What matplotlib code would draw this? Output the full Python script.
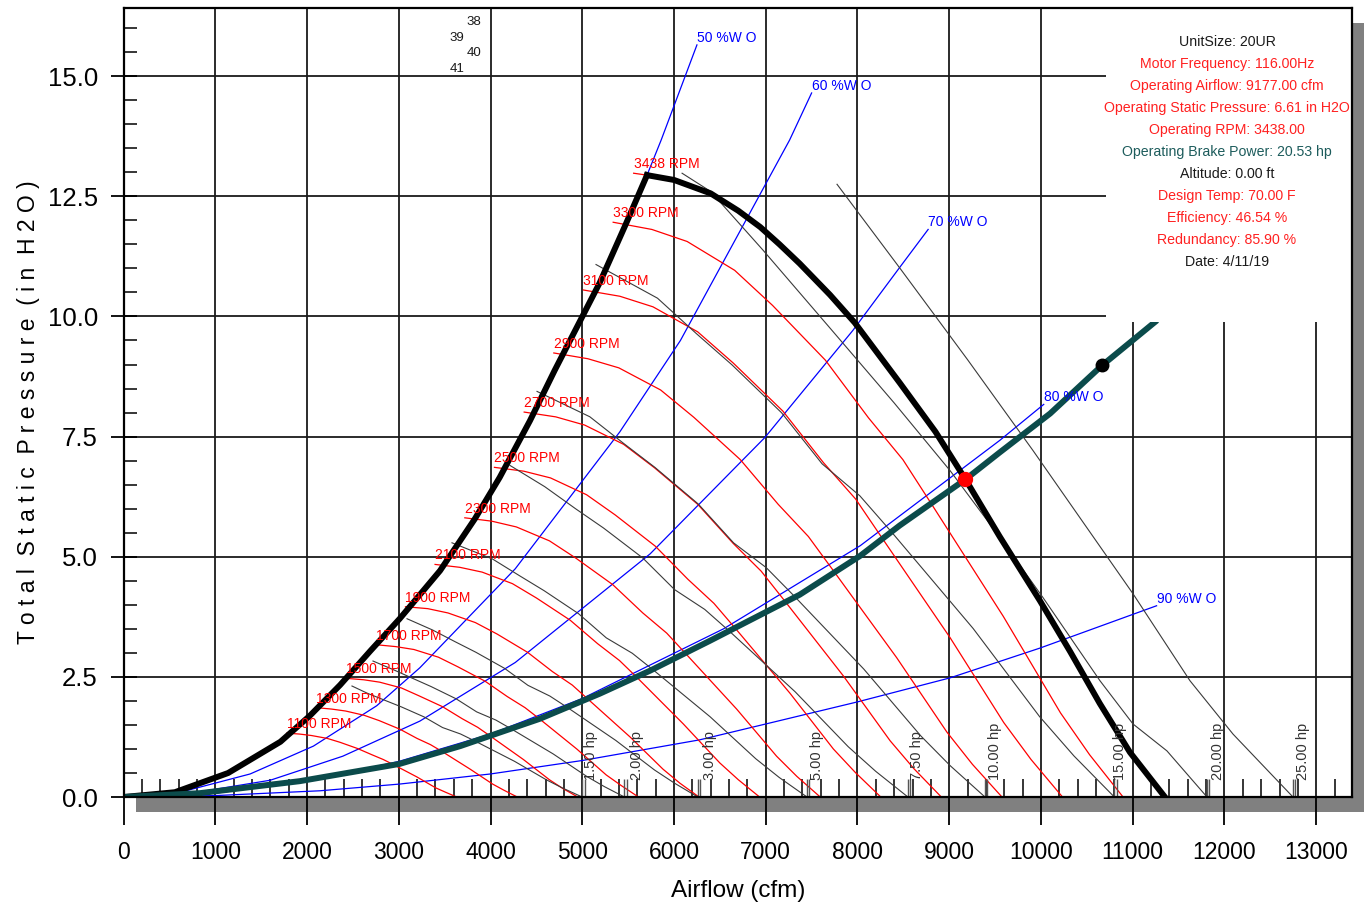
import matplotlib
matplotlib.use("Agg")
import matplotlib.pyplot as plt
from matplotlib.patches import Rectangle
from matplotlib.ticker import MultipleLocator, FormatStrFormatter

plt.rcParams["font.family"] = ["Liberation Sans", "DejaVu Sans"]

# ---------------------------------------------------------------------------
# Data (airflow in cfm, static pressure in in H2O)
# ---------------------------------------------------------------------------
surge_cfm = [0, 560, 1140, 1710, 2030, 2360, 2690, 3010, 3450, 3830, 4100, 4430,
             4700, 4980, 5190, 5470, 5706]
surge_sp = [0, 0.1, 0.5, 1.15, 1.69, 2.33, 3.04, 3.71, 4.71, 5.79, 6.65, 7.83,
            8.88, 9.92, 10.7, 11.9, 12.94]

top_cfm = [5706, 6000, 6400, 6700, 6940, 7150, 7370, 7700, 7970, 8460, 8850, 9177,
           9550, 9990, 10320, 10640, 10970, 11351]
top_sp = [12.94, 12.84, 12.56, 12.2, 11.86, 11.5, 11.1, 10.45, 9.87, 8.62, 7.6, 6.61,
          5.42, 4.08, 3.02, 1.95, 0.93, 0.0]

system_cfm = [0, 830, 1920, 3010, 3670, 4540, 5190, 5740, 6390, 7370, 8030, 8460,
              9177, 9550, 10100, 10665, 11240]
system_sp = [0, 0.08, 0.33, 0.69, 1.06, 1.63, 2.15, 2.63, 3.25, 4.21, 5.02, 5.65,
             6.61, 7.17, 7.98, 8.98, 9.88]

op_point = (9177, 6.61)
sys_point = (10665, 8.98)

rpm_values = [1100, 1300, 1500, 1700, 1900, 2100, 2300, 2500, 2700, 2900, 3100, 3300]
rpm_cfm = [
    [1779, 1920, 2048, 2220, 2358, 2550, 2707, 2832, 2936, 3196, 3404, 3510, 3632],
    [2102, 2269, 2420, 2624, 2787, 3014, 3199, 3346, 3470, 3778, 4023, 4148, 4292],
    [2426, 2618, 2792, 3028, 3216, 3477, 3691, 3861, 4004, 4359, 4642, 4786, 4952],
    [2749, 2967, 3165, 3432, 3644, 3941, 4183, 4376, 4538, 4940, 5261, 5424, 5613],
    [3073, 3316, 3537, 3835, 4073, 4405, 4675, 4891, 5072, 5521, 5880, 6063, 6273],
    [3396, 3665, 3909, 4239, 4502, 4868, 5168, 5406, 5606, 6102, 6499, 6701, 6933],
    [3720, 4014, 4282, 4643, 4931, 5332, 5660, 5921, 6139, 6683, 7118, 7339, 7594],
    [4043, 4363, 4654, 5047, 5359, 5796, 6152, 6435, 6673, 7264, 7737, 7977, 8254],
    [4367, 4712, 5026, 5450, 5788, 6259, 6644, 6950, 7207, 7846, 8356, 8615, 8914],
    [4690, 5061, 5399, 5854, 6217, 6723, 7136, 7465, 7741, 8427, 8975, 9253, 9575],
    [5013, 5410, 5771, 6258, 6646, 7187, 7628, 7980, 8275, 9008, 9594, 9892, 10235],
    [5337, 5759, 6143, 6661, 7074, 7650, 8120, 8495, 8809, 9589, 10213, 10530, 10895],
]
rpm_sp = [
    [1.33, 1.31, 1.28, 1.22, 1.14, 1.01, 0.88, 0.78, 0.68, 0.42, 0.19, 0.10, 0],
    [1.86, 1.83, 1.79, 1.70, 1.59, 1.41, 1.22, 1.09, 0.95, 0.58, 0.27, 0.14, 0],
    [2.47, 2.44, 2.39, 2.27, 2.11, 1.88, 1.63, 1.45, 1.26, 0.78, 0.36, 0.18, 0],
    [3.17, 3.13, 3.07, 2.91, 2.71, 2.41, 2.09, 1.86, 1.62, 1.00, 0.46, 0.24, 0],
    [3.96, 3.92, 3.83, 3.63, 3.39, 3.01, 2.61, 2.33, 2.02, 1.25, 0.58, 0.29, 0],
    [4.84, 4.78, 4.68, 4.44, 4.14, 3.68, 3.19, 2.84, 2.47, 1.52, 0.71, 0.36, 0],
    [5.81, 5.74, 5.62, 5.33, 4.97, 4.42, 3.83, 3.41, 2.96, 1.83, 0.85, 0.43, 0],
    [6.86, 6.78, 6.64, 6.29, 5.87, 5.22, 4.53, 4.03, 3.50, 2.16, 1.00, 0.51, 0],
    [8.01, 7.91, 7.74, 7.34, 6.85, 6.09, 5.28, 4.70, 4.08, 2.52, 1.17, 0.59, 0],
    [9.24, 9.12, 8.93, 8.47, 7.90, 7.02, 6.09, 5.42, 4.70, 2.90, 1.35, 0.68, 0],
    [10.55, 10.42, 10.20, 9.68, 9.03, 8.03, 6.96, 6.20, 5.37, 3.32, 1.55, 0.78, 0],
    [11.96, 11.81, 11.56, 10.96, 10.23, 9.09, 7.89, 7.02, 6.09, 3.76, 1.75, 0.88, 0],
]
max_rpm = 3438
max_rpm_lead_cfm = [5560, 5706]
max_rpm_lead_sp = [12.98, 12.94]

hp_names = ["1.50 hp", "2.00 hp", "3.00 hp", "5.00 hp", "7.50 hp", "10.00 hp",
            "15.00 hp", "20.00 hp", "25.00 hp"]
hp_label_cfm = [5095, 5597, 6392, 7558, 8648, 9499, 10861, 11929, 12856]
hp_cfm = [
    [2490, 2657, 2852, 3029, 3276, 3477, 3673, 3839, 4262, 4610, 4790, 5000],
    [2719, 2941, 3158, 3353, 3626, 3849, 4058, 4235, 4683, 5050, 5239, 5460],
    [3090, 3368, 3616, 3840, 4152, 4408, 4647, 4851, 5366, 5788, 6006, 6260],
    [3580, 4021, 4317, 4584, 4957, 5262, 5545, 5785, 6393, 6891, 7147, 7450],
    [4212, 4591, 4927, 5233, 5659, 6007, 6335, 6614, 7320, 7899, 8198, 8550],
    [4507, 5082, 5455, 5793, 6264, 6650, 7005, 7306, 8069, 8692, 9013, 9390],
    [5150, 5820, 6246, 6633, 7173, 7614, 8026, 8375, 9261, 9985, 10359, 10800],
    [6088, 6400, 6970, 7722, 8400, 9010, 9553, 10022, 10643, 11003, 11373, 11810],
    [7777, 8464, 9200, 9913, 11003, 11624, 12093, 12747],
]
hp_sp = [
    [2.31, 2.16, 2.01, 1.875, 1.667, 1.446, 1.312, 1.157, 0.743, 0.357, 0.183, 0],
    [2.83, 2.65, 2.464, 2.298, 2.043, 1.772, 1.602, 1.408, 0.897, 0.428, 0.219, 0],
    [3.71, 3.476, 3.23, 3.013, 2.679, 2.324, 2.101, 1.847, 1.177, 0.562, 0.288, 0],
    [5.29, 4.954, 4.604, 4.294, 3.819, 3.312, 2.992, 2.627, 1.671, 0.797, 0.407, 0],
    [6.90, 6.458, 5.999, 5.596, 4.975, 4.315, 3.904, 3.433, 2.191, 1.047, 0.536, 0],
    [8.44, 7.913, 7.352, 6.858, 6.098, 5.288, 4.774, 4.19, 2.662, 1.268, 0.648, 0],
    [11.08, 10.38, 9.639, 8.991, 7.995, 6.934, 6.267, 5.506, 3.506, 1.673, 0.856, 0],
    [12.98, 12.6, 11.38, 9.71, 8.2, 6.79, 5.4, 4.15, 2.42, 1.52, 0.96, 0],
    [12.75, 11.0, 9.1, 7.21, 4.23, 2.42, 1.31, 0],
]

wo_names = ["50 %W O", "60 %W O", "70 %W O", "80 %W O", "90 %W O"]
wo_cfm = [
    [0, 560, 1140, 1710, 2030, 2360, 2690, 3010, 3450, 3830, 4100, 4430, 4700,
     4980, 5190, 5470, 5706, 5860, 6250],
    [0, 620, 1380, 2070, 2760, 3230, 4270, 5410, 6070, 7260, 7500],
    [0, 800, 1600, 2390, 3230, 4270, 5740, 6990, 7950, 8460, 8770],
    [0, 1000, 2000, 3000, 4000, 5000, 6540, 8030, 9550, 10030],
    [0, 1000, 2140, 3010, 4000, 5000, 6280, 7000, 8000, 9010, 9990, 11260],
]
wo_sp = [
    [0, 0.1, 0.5, 1.15, 1.69, 2.33, 3.04, 3.71, 4.71, 5.79, 6.65, 7.83, 8.88,
     9.92, 10.7, 11.9, 12.94, 13.67, 15.65],
    [0, 0.1, 0.48, 1.06, 1.9, 2.69, 4.75, 7.6, 9.5, 13.67, 14.65],
    [0, 0.1, 0.35, 0.85, 1.58, 2.8, 5.06, 7.48, 9.71, 11.02, 11.81],
    [0, 0.08, 0.33, 0.74, 1.31, 2.05, 3.5, 5.23, 7.42, 8.17],
    [0, 0.03, 0.13, 0.27, 0.48, 0.76, 1.19, 1.52, 1.98, 2.48, 3.1, 3.98],
]

corner_tags = ["38", "39", "40", "41"]
corner_cfm = [3820, 3635, 3820, 3635]
corner_sp = [16.12, 15.79, 15.48, 15.15]

info_lines = [
    ("UnitSize: 20UR", "#1a1a1a"),
    ("Motor Frequency: 116.00Hz", "#ff2020"),
    ("Operating Airflow: 9177.00 cfm", "#ff2020"),
    ("Operating Static Pressure: 6.61 in H2O", "#ff2020"),
    ("Operating RPM: 3438.00", "#ff2020"),
    ("Operating Brake Power: 20.53 hp", "#1d5c5c"),
    ("Altitude: 0.00 ft", "#1a1a1a"),
    ("Design Temp: 70.00 F", "#ff2020"),
    ("Efficiency: 46.54 %", "#ff2020"),
    ("Redundancy: 85.90 %", "#ff2020"),
    ("Date: 4/11/19", "#1a1a1a"),
]

X_MAX = 13390
Y_MAX = 16.41

# ---------------------------------------------------------------------------
fig = plt.figure(figsize=(13.68, 9.11), dpi=100)
ax = fig.add_axes([0.0903, 0.1251, 0.8980, 0.8657])

# drop shadow behind the plot frame
fig.add_artist(Rectangle((0.0994, 0.1087), 0.8977, 0.866, transform=fig.transFigure,
                         facecolor="#808080", edgecolor="none", zorder=-1))
ax.set_facecolor("white")

ax.set_xlim(0, X_MAX)
ax.set_ylim(0, Y_MAX)

# %WO lines
for cfm, sp, name in zip(wo_cfm, wo_sp, wo_names):
    ax.plot(cfm, sp, color="#0000ff", lw=0.9, zorder=3)
    ax.text(cfm[-1], sp[-1], name, color="#0000ff", fontsize=10,
            ha="left", va="bottom", zorder=6)

# speed curves
for rpm, cfm, sp in zip(rpm_values, rpm_cfm, rpm_sp):
    ax.plot(cfm, sp, color="#ff0000", lw=0.9, zorder=3)
    ax.annotate(f"{rpm} RPM", (cfm[0], sp[0]), xytext=(0, 1.5),
                textcoords="offset points", color="#ff0000", fontsize=10,
                ha="left", va="bottom", zorder=6)
ax.plot(max_rpm_lead_cfm, max_rpm_lead_sp, color="#ff0000", lw=0.9, zorder=3)
ax.annotate(f"{max_rpm} RPM", (max_rpm_lead_cfm[0], max_rpm_lead_sp[0]),
            xytext=(0, 1.5), textcoords="offset points", color="#ff0000",
            fontsize=10, ha="left", va="bottom", zorder=6)

# horsepower lines, with the little end marks on the axis
for cfm, sp, name, lx in zip(hp_cfm, hp_sp, hp_names, hp_label_cfm):
    ax.plot(cfm, sp, color="#3a3a3a", lw=0.8, zorder=3)
    ax.vlines([cfm[-1], cfm[-1] + 25], 0, 0.37, color="#555555", lw=1.0, zorder=3)
    ax.text(lx, 0.35, name, color="#333333", fontsize=10.5, rotation=90,
            ha="center", va="bottom", zorder=6)

# fan curve at max speed + system curve
ax.plot(surge_cfm, surge_sp, color="black", lw=4.3, solid_joinstyle="round", zorder=4)
ax.plot(top_cfm, top_sp, color="black", lw=4.3, solid_joinstyle="round", zorder=4)
ax.plot(system_cfm, system_sp, color="#0b4b4b", lw=4.3, solid_joinstyle="round",
        zorder=4)
ax.plot(*op_point, "o", color="#ff0000", ms=10, zorder=5)
ax.plot(*sys_point, "o", color="black", ms=9, zorder=5)

for tag, cx, cy in zip(corner_tags, corner_cfm, corner_sp):
    ax.text(cx, cy, tag, fontsize=9.5, ha="center", va="center", color="#1a1a1a")

# info panel (blanks the grid behind it)
ax.add_patch(Rectangle((10710, 9.875), X_MAX - 10710, Y_MAX - 9.875,
                       facecolor="white", edgecolor="none", zorder=5))
for i, (line, col) in enumerate(info_lines):
    ax.text(12027, 15.71 - 0.458 * i, line, color=col, fontsize=10.2,
            ha="center", va="center", zorder=7)

# grid + ticks
ax.xaxis.set_major_locator(MultipleLocator(1000))
ax.xaxis.set_minor_locator(MultipleLocator(200))
ax.yaxis.set_major_locator(MultipleLocator(2.5))
ax.yaxis.set_minor_locator(MultipleLocator(0.5))
ax.yaxis.set_major_formatter(FormatStrFormatter("%.1f"))
ax.grid(True, which="major", color="#1a1a1a", lw=1.3, zorder=1)
ax.set_axisbelow(True)
ax.tick_params(axis="x", which="major", direction="out", length=20, width=1.3,
               pad=12, labelsize=16.5)
ax.tick_params(axis="x", which="minor", direction="in", length=13, width=1.1)
ax.tick_params(axis="y", which="major", direction="inout", length=19, width=1.3,
               pad=9, labelsize=18.5)
ax.tick_params(axis="y", which="minor", direction="in", length=9.4, width=1.1)
for side in ax.spines.values():
    side.set_linewidth(1.6)
    side.set_zorder(8)

ax.set_xlabel("Airflow (cfm)", fontsize=17.5, labelpad=11)
fig.text(0.021, 0.548, "T o t a l  S t a t i c  P r e s s u r e  ( i n  H 2 O )",
         rotation=90, ha="center", va="center", fontsize=16.5)

fig.savefig("out.png", dpi=100)
